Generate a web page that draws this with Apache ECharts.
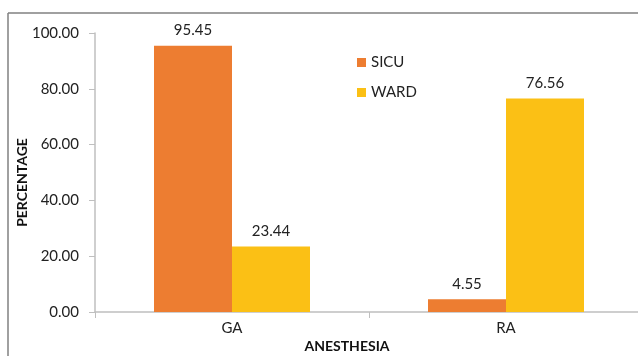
<!DOCTYPE html>
<html><head><meta charset="utf-8">
<script src="https://cdn.jsdelivr.net/npm/echarts@6/dist/echarts.min.js"></script>
<style>html,body{margin:0;padding:0;background:#fff}#c{width:638px;height:356px}</style>
</head><body><div id="c"></div>
<script>
const categories = ['GA', 'RA'];
const sicu = [95.45, 4.55];
const ward = [23.44, 76.56];
const yTicks = [0, 20, 40, 60, 80, 100];

const chart = echarts.init(document.getElementById('c'));
const font = 'Lato, "Open Sans", sans-serif';
const labelStyle = {show: true, position: 'top', distance: 8, color: '#222', fontSize: 15, fontFamily: font,
  formatter: p => p.value.toFixed(2)};
chart.setOption({
  animation: false,
  textStyle: {fontFamily: font},
  graphic: [
    {type: 'line', shape: {x1: 8, y1: 13, x2: 638, y2: 13}, style: {stroke: '#808080', lineWidth: 1.5}},
    {type: 'line', shape: {x1: 8, y1: 13, x2: 8, y2: 356}, style: {stroke: '#808080', lineWidth: 1.5}}
  ],
  legend: {
    orient: 'vertical', left: 352, top: 50, itemWidth: 9, itemHeight: 9, itemGap: 15,
    icon: 'rect', textStyle: {fontSize: 15, color: '#222', fontFamily: font}
  },
  grid: {left: 95, top: 33, width: 548, height: 279, containLabel: false, outerBoundsMode: 'none'},
  xAxis: {
    type: 'category', data: categories,
    name: 'ANESTHESIA', nameLocation: 'middle', nameGap: 27, nameMoveOverlap: false,
    nameTextStyle: {fontWeight: 'bold', fontSize: 14, color: '#111', fontFamily: font, padding: [0, 44, 0, 0]},
    axisLine: {lineStyle: {color: '#bfbfbf', width: 1.5}},
    axisTick: {show: true, length: 6, lineStyle: {color: '#bfbfbf'}},
    axisLabel: {fontSize: 15, color: '#222', margin: 9, fontFamily: font}
  },
  yAxis: {
    type: 'value', min: yTicks[0], max: yTicks[yTicks.length - 1], interval: 20,
    name: 'PERCENTAGE', nameLocation: 'middle', nameGap: 66, nameMoveOverlap: false,
    nameTextStyle: {fontWeight: 'bold', fontSize: 14, color: '#111', fontFamily: font, padding: [0, 20, 0, 0]},
    axisLine: {show: true, lineStyle: {color: '#bfbfbf', width: 1.5}},
    axisTick: {show: true, length: 6, lineStyle: {color: '#bfbfbf'}},
    splitLine: {show: false},
    axisLabel: {fontSize: 15, color: '#222', margin: 16, fontFamily: font, formatter: v => v.toFixed(2)}
  },
  series: [
    {name: 'SICU', type: 'bar', data: sicu, barWidth: 78, barGap: '0%', itemStyle: {color: '#ED7D31'}, label: labelStyle},
    {name: 'WARD', type: 'bar', data: ward, barWidth: 78, barGap: '0%', itemStyle: {color: '#FBC015'}, label: labelStyle}
  ]
});
</script></body></html>
